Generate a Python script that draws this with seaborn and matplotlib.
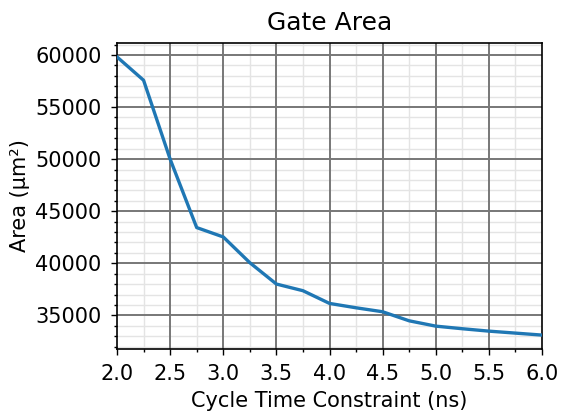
import matplotlib
matplotlib.use("Agg")
import matplotlib.pyplot as plt
from matplotlib.ticker import MultipleLocator
import seaborn as sns
import pandas as pd

cycle_time_ns = [2.0, 2.25, 2.5, 2.75, 3.0, 3.25, 3.5, 3.75, 4.0,
                 4.25, 4.5, 4.75, 5.0, 5.25, 5.5, 5.75, 6.0]
gate_area_um2 = [59810, 57570, 50000, 43430, 42530, 40060, 38010, 37370, 36150,
                 35730, 35350, 34480, 33970, 33720, 33490, 33300, 33110]

df = pd.DataFrame({"cycle": cycle_time_ns, "area": gate_area_um2})

fig = plt.figure(figsize=(5.61, 4.11), dpi=100)
ax = fig.add_axes([117 / 561, 1 - 349 / 411, 425 / 561, 306 / 411])

sns.lineplot(data=df, x="cycle", y="area", ax=ax, color="#1f77b4",
             linewidth=2.4, zorder=3)

ax.set_xlim(2.0, 6.0)
ax.xaxis.set_major_locator(MultipleLocator(0.5))
ax.xaxis.set_minor_locator(MultipleLocator(0.25))
ax.yaxis.set_major_locator(MultipleLocator(5000))
ax.yaxis.set_minor_locator(MultipleLocator(1000))

# light minor grid from the axes, heavier major grid drawn on top of it
ax.set_axisbelow(True)
ax.grid(which="minor", color="#e4e4e4", linewidth=1.0)
ax.grid(which="major", visible=False)
ylo, yhi = ax.get_ylim()
for xv in ax.get_xticks():
    if 2.0 < xv < 6.0:
        ax.axvline(xv, color="#777777", linewidth=1.4, zorder=1)
for yv in ax.get_yticks():
    if ylo < yv < yhi:
        ax.axhline(yv, color="#777777", linewidth=1.4, zorder=1)
ax.set_ylim(ylo, yhi)

ax.tick_params(which="major", labelsize=15, length=4, width=1, pad=7)
ax.tick_params(which="minor", length=2.2, width=1)

ax.set_title("Gate Area", fontsize=18, pad=9)
ax.set_xlabel("Cycle Time Constraint (ns)", fontsize=15, labelpad=5)
ax.set_ylabel("Area (µm²)", fontsize=15, labelpad=3.5)

for s in ax.spines.values():
    s.set_color("black")
    s.set_linewidth(1.2)

fig.savefig("out.png", dpi=100)
